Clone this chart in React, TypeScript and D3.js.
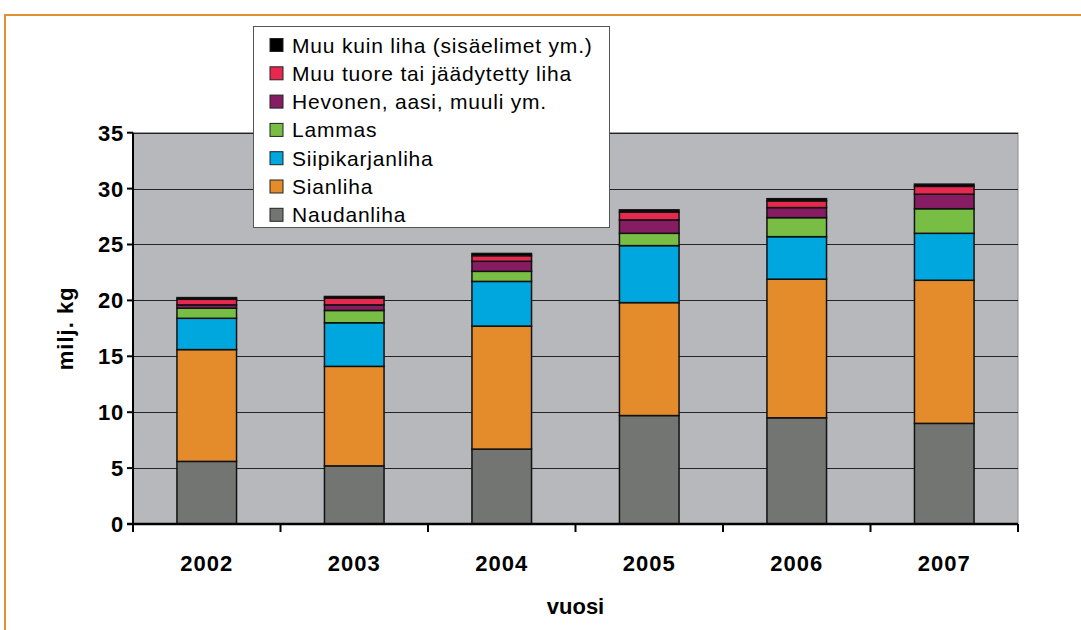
import React, { useRef, useEffect } from "react";
import * as d3 from "d3";

const years = ["2002", "2003", "2004", "2005", "2006", "2007"];

// stacked bottom-up
const naudanliha = [5.6, 5.2, 6.7, 9.7, 9.5, 9.0];
const sianliha = [10.0, 8.9, 11.0, 10.1, 12.4, 12.8];
const siipikarjanliha = [2.8, 3.9, 4.0, 5.1, 3.8, 4.2];
const lammas = [0.9, 1.1, 0.9, 1.1, 1.7, 2.2];
const hevonen = [0.3, 0.5, 0.9, 1.2, 0.9, 1.3];
const muuTuore = [0.5, 0.6, 0.5, 0.7, 0.6, 0.7];
const muuKuinLiha = [0.15, 0.15, 0.2, 0.2, 0.2, 0.2];

const seriesNames = [
  "Naudanliha",
  "Sianliha",
  "Siipikarjanliha",
  "Lammas",
  "Hevonen, aasi, muuli ym.",
  "Muu tuore tai jäädytetty liha",
  "Muu kuin liha (sisäelimet ym.)",
];
const seriesValues = [naudanliha, sianliha, siipikarjanliha, lammas, hevonen, muuTuore, muuKuinLiha];
const colors = ["#737573", "#e48b2b", "#00a6de", "#78be44", "#861d62", "#e8294f", "#000000"];

const yTicks = [0, 5, 10, 15, 20, 25, 30, 35];

function App() {
  const ref = useRef<SVGSVGElement>(null);

  useEffect(() => {
    const svg = d3.select(ref.current);
    svg.selectAll("*").remove();

    const width = 1081,
      height = 630;
    const left = 133,
      right = 1018,
      top = 132.7,
      bottom = 524;
    const font = "'Liberation Sans', Arial, sans-serif";

    // orange frame
    svg
      .append("rect")
      .attr("x", 5)
      .attr("y", 15)
      .attr("width", width + 20)
      .attr("height", height + 20)
      .attr("fill", "#fff")
      .attr("stroke", "#e58f33")
      .attr("stroke-width", 2);

    const x = d3.scaleBand().domain(years).range([left, right]);
    const y = d3.scaleLinear().domain([0, 35]).range([bottom, top]);

    svg
      .append("rect")
      .attr("x", left)
      .attr("y", top)
      .attr("width", right - left)
      .attr("height", bottom - top)
      .attr("fill", "#b7b8bb")
      .attr("stroke", "#8a8a8a")
      .attr("stroke-width", 1);

    // gridlines
    svg
      .append("g")
      .selectAll("line")
      .data(yTicks.slice(1))
      .enter()
      .append("line")
      .attr("x1", left)
      .attr("x2", right)
      .attr("y1", d => Math.round(y(d)) + 0.5)
      .attr("y2", d => Math.round(y(d)) + 0.5)
      .attr("stroke", "#222")
      .attr("stroke-width", 1.2);

    const table = years.map((yr, i) => {
      const row: any = { year: yr };
      seriesNames.forEach((n, j) => (row[n] = seriesValues[j][i]));
      return row;
    });
    const stacked = d3.stack().keys(seriesNames)(table);

    const barW = x.bandwidth() * 0.404;

    const groups = svg
      .append("g")
      .selectAll("g")
      .data(stacked)
      .enter()
      .append("g")
      .attr("fill", (d, i) => colors[i]);

    groups
      .selectAll("rect")
      .data(d => d)
      .enter()
      .append("rect")
      .attr("x", d => (x(d.data.year as string) as number) + x.bandwidth() / 2 - barW / 2)
      .attr("y", d => y(d[1]))
      .attr("width", barW)
      .attr("height", d => y(d[0]) - y(d[1]))
      .attr("stroke", "#111")
      .attr("stroke-width", 1.5);

    // y axis
    svg
      .append("line")
      .attr("x1", left)
      .attr("x2", left)
      .attr("y1", top)
      .attr("y2", bottom)
      .attr("stroke", "#000")
      .attr("stroke-width", 2);

    const yt = svg.append("g");
    yTicks.forEach(t => {
      yt.append("line")
        .attr("x1", left - 6)
        .attr("x2", left)
        .attr("y1", y(t))
        .attr("y2", y(t))
        .attr("stroke", "#000")
        .attr("stroke-width", 2);
      yt.append("text")
        .attr("x", left - 9)
        .attr("y", y(t))
        .attr("dy", "0.36em")
        .attr("text-anchor", "end")
        .attr("font-family", font)
        .attr("font-weight", "bold")
        .attr("font-size", "22px")
        .attr("letter-spacing", "0.8px")
        .text(t);
    });

    // x axis
    svg
      .append("line")
      .attr("x1", left - 6)
      .attr("x2", right)
      .attr("y1", bottom)
      .attr("y2", bottom)
      .attr("stroke", "#000")
      .attr("stroke-width", 2.5);

    const xt = svg.append("g");
    const edges = years.map(d => x(d) as number).concat([right]);
    edges.forEach(e => {
      xt.append("line")
        .attr("x1", e)
        .attr("x2", e)
        .attr("y1", bottom)
        .attr("y2", bottom + 8)
        .attr("stroke", "#000")
        .attr("stroke-width", 2);
    });
    years.forEach(yr => {
      xt.append("text")
        .attr("x", (x(yr) as number) + x.bandwidth() / 2)
        .attr("y", 563)
        .attr("dy", "0.36em")
        .attr("text-anchor", "middle")
        .attr("font-family", font)
        .attr("font-weight", "bold")
        .attr("font-size", "22px")
        .attr("letter-spacing", "1px")
        .text(yr);
    });

    svg
      .append("text")
      .attr("x", (left + right) / 2)
      .attr("y", 606)
      .attr("dy", "0.36em")
      .attr("text-anchor", "middle")
      .attr("font-family", font)
      .attr("font-weight", "bold")
      .attr("font-size", "22px")
      .text("vuosi");

    svg
      .append("text")
      .attr("transform", `translate(65, ${(top + bottom) / 2}) rotate(-90)`)
      .attr("dy", "0.36em")
      .attr("text-anchor", "middle")
      .attr("font-family", font)
      .attr("font-weight", "bold")
      .attr("font-size", "22px")
      .attr("letter-spacing", "1px")
      .text("milj. kg");

    // legend
    const lg = svg.append("g");
    lg.append("rect")
      .attr("x", 253.5)
      .attr("y", 26.5)
      .attr("width", 356)
      .attr("height", 201)
      .attr("fill", "#fff")
      .attr("stroke", "#555")
      .attr("stroke-width", 1);

    const legendOrder = seriesNames.map((n, i) => i).reverse();
    legendOrder.forEach((si, k) => {
      const cy = 45 + k * 28.3;
      lg.append("rect")
        .attr("x", 270)
        .attr("y", cy - 6.5)
        .attr("width", 13)
        .attr("height", 13)
        .attr("fill", colors[si])
        .attr("stroke", "#222")
        .attr("stroke-width", 1);
      lg.append("text")
        .attr("x", 292)
        .attr("y", cy)
        .attr("dy", "0.36em")
        .attr("font-family", font)
        .attr("font-size", "21px")
        .attr("letter-spacing", "0.8px")
        .text(seriesNames[si]);
    });
  }, []);

  return (
    <svg
      ref={ref}
      width={1081}
      height={630}
      style={{ position: "absolute", left: 0, top: 0, background: "#fff" }}
    />
  );
}

export default App;
